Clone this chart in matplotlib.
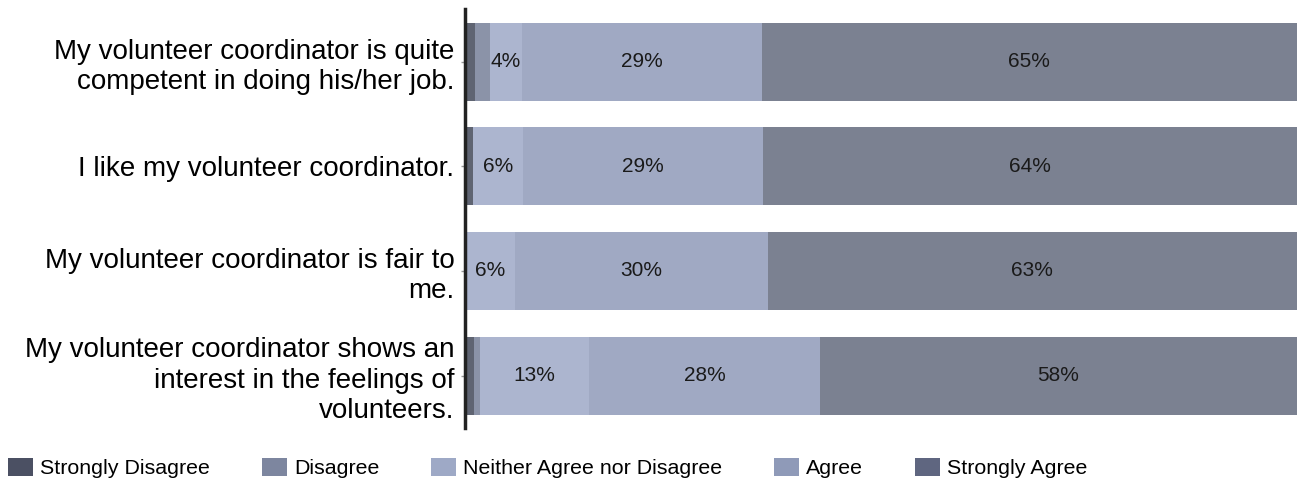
import matplotlib
matplotlib.use("Agg")
import matplotlib.pyplot as plt
from matplotlib.patches import Patch

plt.rcParams['font.family'] = ['Liberation Sans', 'DejaVu Sans']

statements = [
    "My volunteer coordinator is quite\ncompetent in doing his/her job.",
    "I like my volunteer coordinator.",
    "My volunteer coordinator is fair to\nme.",
    "My volunteer coordinator shows an\ninterest in the feelings of\nvolunteers.",
]
categories = ["Strongly Disagree", "Disagree", "Neither Agree nor Disagree", "Agree", "Strongly Agree"]

# segment widths (percent)
strongly_disagree = [1.2, 1.0, 0.0, 1.1]
disagree = [1.8, 0.0, 0.0, 0.8]
neither = [3.85, 6.0, 6.0, 13.0]
agree = [28.85, 28.9, 30.4, 27.8]
strongly_agree = [64.3, 64.1, 63.6, 57.3]

# printed percentage labels
neither_labels = ["4%", "6%", "6%", "13%"]
agree_labels = ["29%", "29%", "30%", "28%"]
strongly_agree_labels = ["65%", "64%", "63%", "58%"]

series = [strongly_disagree, disagree, neither, agree, strongly_agree]
series_labels = [None, None, neither_labels, agree_labels, strongly_agree_labels]
bar_colors = ["#5f6472", "#8b93a8", "#acb5cf", "#a0a9c3", "#7b8191"]
legend_colors = ["#4b5063", "#7d869f", "#9ea9c6", "#8f9ab8", "#5f6680"]

fig = plt.figure(figsize=(12.98, 4.82), dpi=100)
ax = fig.add_axes([0.358, 0.112, 1297 / 1298 - 0.358, 0.869])

ypos = list(range(len(statements)))
left = [0] * len(statements)
for vals, col, labs in zip(series, bar_colors, series_labels):
    ax.barh(ypos, vals, left=left, height=0.745, color=col, edgecolor='none')
    if labs:
        for y, v, l, t in zip(ypos, vals, left, labs):
            ax.text(l + v / 2, y, t, ha='center', va='center',
                    fontsize=15, color='#1a1a1a')
    left = [a + b for a, b in zip(left, vals)]

ax.set_xlim(0, 100)
ax.set_ylim(3.5, -0.5)
ax.set_yticks(ypos)
ax.set_yticklabels(statements, fontsize=20, linespacing=1.22, ha='right')
ax.tick_params(axis='y', length=3, color='#999999', pad=4.5, width=1)
ax.tick_params(axis='x', bottom=False, labelbottom=False)
for s in ['top', 'right', 'bottom']:
    ax.spines[s].set_visible(False)
ax.spines['left'].set_color('#222222')
ax.spines['left'].set_linewidth(2.5)

handles = [Patch(facecolor=c, edgecolor='none') for c in legend_colors]
fig.legend(handles, categories, loc='center left', bbox_to_anchor=(0.006, 0.029),
           ncol=5, frameon=False, fontsize=15.4, handlelength=1.17,
           handleheight=0.9, handletextpad=0.33, columnspacing=2.43,
           borderaxespad=0, borderpad=0)

fig.savefig("out.png", dpi=100)
